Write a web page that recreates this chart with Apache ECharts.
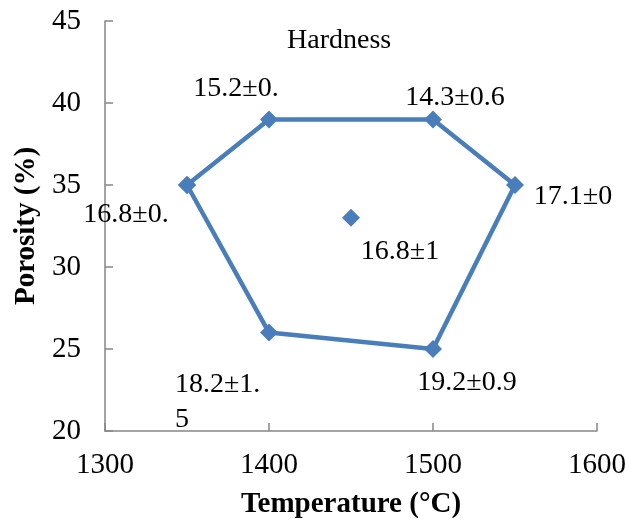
<!DOCTYPE html>
<html>
<head>
    <meta charset="utf-8">
    <title>Hardness</title>
    <script src="https://cdn.jsdelivr.net/npm/echarts@6/dist/echarts.min.js"></script>
</head>
<body style="margin:0">
<div id="main" style="width: 629px;height:524px;"></div>
<script type="text/javascript">
    // polygon points, in drawing order (closed back to the first one)
    var temps = [1350, 1400, 1500, 1550, 1500, 1400];
    var porosity = [35, 39, 39, 35, 25, 26];
    var hardness = ['16.8±0.', '15.2±0.', '14.3±0.6', '17.1±0', '19.2±0.9', '18.2±1.\n5'];

    // the single point in the middle
    var centerTemp = [1450];
    var centerPorosity = [33];
    var centerHardness = ['16.8±1'];

    var xTicks = [1300, 1400, 1500, 1600];
    var yTicks = [20, 25, 30, 35, 40, 45];

    var font = "'Liberation Serif', 'Times New Roman', serif";
    var blue = '#4a7ebb';

    // where each label sits relative to its point
    var offsets = [[-61, 30], [-33, -31], [22, -22], [58, 12], [34, 34], [-94, 70]];
    var aligns = ['center', 'center', 'center', 'center', 'center', 'left'];

    var lineData = [];
    for (var i = 0; i < temps.length; i++) {
        lineData.push({
            value: [temps[i], porosity[i]],
            label: {
                show: true,
                formatter: hardness[i],
                offset: offsets[i],
                align: aligns[i]
            }
        });
    }
    lineData.push({value: [temps[0], porosity[0]], label: {show: false}});

    var centerData = [];
    for (var j = 0; j < centerTemp.length; j++) {
        centerData.push({
            value: [centerTemp[j], centerPorosity[j]],
            label: {show: true, formatter: centerHardness[j], offset: [49, 34]}
        });
    }

    var labelStyle = {
        position: 'inside',
        color: '#000',
        fontFamily: font,
        fontSize: 28,
        lineHeight: 35
    };

    var axisStyle = {
        axisLine: {show: true, lineStyle: {color: '#868686', width: 1.5}},
        axisTick: {show: true, inside: true, length: 8, lineStyle: {color: '#868686', width: 1.5}},
        splitLine: {show: false}
    };

    var myChart = echarts.init(document.getElementById('main'));
    var option = {
        animation: false,
        backgroundColor: '#fff',
        title: {
            text: 'Hardness',
            left: 282,
            top: 22,
            textStyle: {fontFamily: font, fontSize: 28, fontWeight: 'normal', color: '#000'}
        },
        grid: {left: 105, right: 32, top: 21, bottom: 92},
        xAxis: Object.assign({
            type: 'value',
            min: xTicks[0],
            max: xTicks[xTicks.length - 1],
            interval: xTicks[1] - xTicks[0],
            name: 'Temperature (°C)',
            nameLocation: 'middle',
            nameGap: 59,
            nameTextStyle: {fontFamily: font, fontSize: 29, fontWeight: 'bold', color: '#000'},
            axisLabel: {fontFamily: font, fontSize: 29, color: '#000', margin: 20, formatter: function (v) { return String(v); }}
        }, axisStyle),
        yAxis: Object.assign({
            type: 'value',
            min: yTicks[0],
            max: yTicks[yTicks.length - 1],
            interval: yTicks[1] - yTicks[0],
            name: 'Porosity (%)',
            nameLocation: 'middle',
            nameGap: 60,
            nameTextStyle: {fontFamily: font, fontSize: 29, fontWeight: 'bold', color: '#000'},
            axisLabel: {fontFamily: font, fontSize: 29, color: '#000', margin: 24}
        }, axisStyle),
        series: [
            {
                type: 'line',
                data: lineData,
                symbol: 'diamond',
                symbolSize: 18,
                lineStyle: {color: blue, width: 4.5},
                itemStyle: {color: blue},
                label: labelStyle
            },
            {
                type: 'scatter',
                data: centerData,
                symbol: 'diamond',
                symbolSize: 18,
                itemStyle: {color: blue, opacity: 1},
                label: labelStyle
            }
        ]
    };
    myChart.setOption(option);
</script>
</body>
</html>
